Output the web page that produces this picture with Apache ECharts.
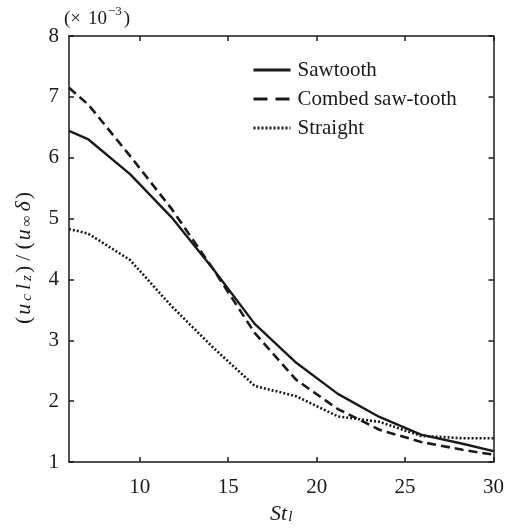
<!DOCTYPE html>
<html>
<head>
<meta charset="utf-8">
<script src="https://cdn.jsdelivr.net/npm/echarts@6/dist/echarts.min.js"></script>
<style>
    html, body { margin: 0; padding: 0; background: #fff; }
    #chart { width: 507px; height: 530px; }
</style>
</head>
<body>
<div id="chart"></div>
<script>
    // St_l sample positions shared by the three curves
    var stl = [6, 7.1, 9.45, 11.8, 14.15, 16.5, 18.85, 21.2, 23.55, 25.9, 28.25, 30];
    // values in units of 1e-3
    var sawtooth = [6.44, 6.30, 5.73, 5.02, 4.17, 3.27, 2.63, 2.12, 1.74, 1.45, 1.30, 1.18];
    var combed = [7.15, 6.87, 6.03, 5.16, 4.17, 3.12, 2.35, 1.87, 1.53, 1.33, 1.20, 1.12];
    var straight = [4.83, 4.75, 4.32, 3.56, 2.88, 2.25, 2.08, 1.75, 1.66, 1.43, 1.39, 1.39];
    var xTicks = [10, 15, 20, 25, 30];
    var names = ['Sawtooth', 'Combed saw-tooth', 'Straight'];

    var ink = '#1a1a1a';
    var serif = 'Liberation Serif';

    function pairs(ys) {
        return stl.map(function (x, i) { return [x, ys[i]]; });
    }

    var chart = echarts.init(document.getElementById('chart'));

    var baseX = {
        type: 'value', min: 6, max: 30,
        axisLine: {show: true, onZero: false, lineStyle: {color: ink, width: 1.5}},
        axisTick: {show: true, inside: true, length: 5, customValues: xTicks, lineStyle: {color: ink, width: 1.5}},
        splitLine: {show: false}
    };
    var baseY = {
        type: 'value', min: 1, max: 8, interval: 1,
        axisLine: {show: true, onZero: false, lineStyle: {color: ink, width: 1.5}},
        axisTick: {show: true, inside: true, length: 5, lineStyle: {color: ink, width: 1.5}},
        splitLine: {show: false}
    };

    var option = {
        backgroundColor: '#fff',
        animation: false,
        grid: {left: 69, right: 9, top: 36, bottom: 59},
        legend: {
            orient: 'vertical',
            left: 247,
            top: 54,
            itemWidth: 37,
            itemHeight: 14,
            itemGap: 7,
            data: [
                {name: names[0]},
                {name: names[1], lineStyle: {type: [14, 8]}},
                {name: names[2]}
            ],
            itemStyle: {opacity: 0},
            lineStyle: {width: 3},
            textStyle: {fontFamily: serif, fontSize: 21, lineHeight: 22, color: ink, padding: [0, 0, 0, 2]}
        },
        xAxis: [
            Object.assign({}, baseX, {
                position: 'bottom',
                axisLabel: {show: true, customValues: xTicks, fontFamily: serif, fontSize: 21, color: ink, margin: 15},
                name: '{i|St}{s|l}',
                nameLocation: 'middle',
                nameGap: 37,
                nameTextStyle: {
                    rich: {
                        i: {fontFamily: serif, fontStyle: 'italic', fontSize: 22, color: ink, lineHeight: 26, verticalAlign: 'bottom'},
                        s: {fontFamily: serif, fontStyle: 'italic', fontSize: 15, color: ink, lineHeight: 12, verticalAlign: 'bottom', padding: [0, 0, 0, 1]}
                    }
                }
            }),
            Object.assign({}, baseX, {position: 'top', axisLabel: {show: false}})
        ],
        yAxis: [
            Object.assign({}, baseY, {
                position: 'left',
                axisLabel: {show: true, fontFamily: serif, fontSize: 21, color: ink, margin: 10},
                name: '{p|(}{i|u}{s|c}{i|l}{s|z}{p|)}{q|/}{p|(}{i|u}{s|∞}{i|δ}{p|)}',
                nameLocation: 'middle',
                nameRotate: 90,
                nameGap: 34,
                nameTextStyle: {
                    padding: [0, 18, 0, 0],
                    rich: {
                        p: {fontFamily: serif, fontSize: 22, color: ink, lineHeight: 26, verticalAlign: 'bottom'},
                        q: {fontFamily: serif, fontSize: 22, color: ink, lineHeight: 26, verticalAlign: 'bottom', padding: [0, 5, 0, 5]},
                        i: {fontFamily: serif, fontStyle: 'italic', fontSize: 22, color: ink, lineHeight: 26, verticalAlign: 'bottom', padding: [0, 2, 0, 2]},
                        s: {fontFamily: serif, fontStyle: 'italic', fontSize: 15, color: ink, lineHeight: 11, verticalAlign: 'bottom', padding: [0, 2, 0, 1]}
                    }
                }
            }),
            Object.assign({}, baseY, {position: 'right', axisLabel: {show: false}})
        ],
        graphic: [{
            type: 'text',
            left: 64,
            top: 5,
            style: {
                text: '{p|(×}{n|10}{u|−3}{p|)}',
                rich: {
                    p: {fontFamily: serif, fontSize: 19, fill: ink, lineHeight: 24, verticalAlign: 'bottom'},
                    n: {fontFamily: serif, fontSize: 19, fill: ink, lineHeight: 24, verticalAlign: 'bottom', padding: [0, 0, 0, 7]},
                    u: {fontFamily: serif, fontSize: 13, fill: ink, lineHeight: 24, verticalAlign: 'top', padding: [0, 2, 0, 1]}
                }
            }
        }],
        series: [
            {
                name: names[0], type: 'line', data: pairs(sawtooth), symbol: 'none',
                lineStyle: {color: ink, width: 2.4, type: 'solid'}, itemStyle: {color: ink}
            },
            {
                name: names[1], type: 'line', data: pairs(combed), symbol: 'none',
                lineStyle: {color: ink, width: 2.6, type: [9, 5]}, itemStyle: {color: ink}
            },
            {
                name: names[2], type: 'line', data: pairs(straight), symbol: 'none',
                lineStyle: {color: ink, width: 2.6, type: [2, 2]}, itemStyle: {color: ink}
            }
        ]
    };
    chart.setOption(option);
</script>
</body>
</html>
